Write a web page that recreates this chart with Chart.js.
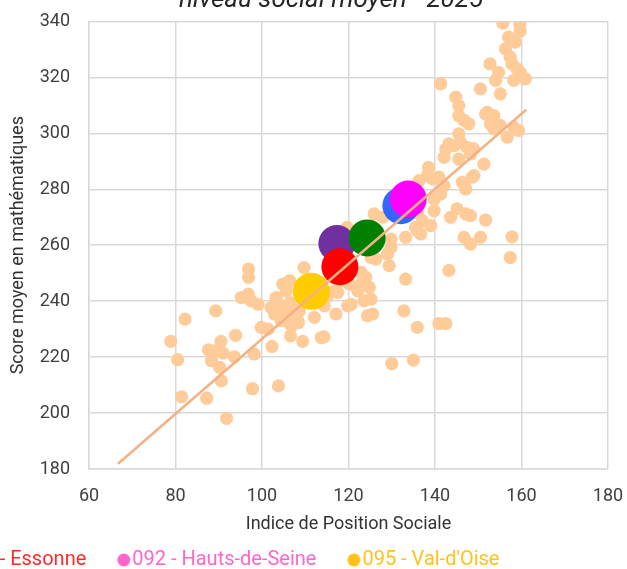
<!DOCTYPE html>
<html lang="fr">
<head>
<meta charset="utf-8">
<title>Score moyen en mathématiques et niveau social moyen - 2025</title>
<script src="https://cdn.jsdelivr.net/npm/chart.js@4.4.1/dist/chart.umd.min.js"></script>
<style>
  html, body { margin: 0; padding: 0; background: #fff; overflow: hidden; }
  #wrap { position: relative; width: 627px; height: 569px; overflow: hidden; }
  /* the chart is bigger than the window: title and legend are cut like in the picture */
  #box { position: absolute; left: -85px; top: -46px; width: 832px; height: 678px; }
</style>
</head>
<body>
<div id="wrap"><div id="box"><canvas id="myChart"></canvas></div></div>
<script>
// collèges (points orange clair)
const ipsColleges = [
  96.9, 96.9, 109.7, 104.8, 105.6, 95.2, 96.8, 97.5, 99.1, 103.3,
  104, 105.5, 106.5, 106.3, 105.1, 106.8, 108.4, 108.6, 112.1, 113.7,
  99.8, 101.4, 106.6, 109.4, 102.3, 89.3, 82.2, 78.9, 80.5, 93.9,
  90.5, 87.6, 89.1, 91.0, 88.3, 90.2, 93.6, 98.2, 90.6, 81.4,
  87.2, 91.8, 97.8, 103.8, 102.9, 104.8, 103.3, 102.1, 104.4, 106.4,
  105.6, 107.1, 108.3, 114.3, 117.1, 119.8, 120.6, 123.6, 125.2, 124.4,
  125.6, 132.8, 135.9, 133.2, 129.4, 124.0, 124.8, 122.9, 122.1, 120.2,
  119.4, 118.3, 117.5, 115.2, 114.4, 116.7, 122.9, 125.2, 119.7, 125.9,
  127.9, 129.8, 129.0, 126.3, 133.2, 135.9, 138.5, 138.2, 135.9, 137.1,
  135.5, 136.7, 129.8, 145.5, 146.7, 147.8, 151.7, 153.6, 152.8, 153.6,
  155.1, 156.7, 159.3, 158.2, 145.5, 143.2, 142.5, 144.4, 145.9, 147.4,
  148.9, 142.1, 145.5, 148.2, 151.3, 140.9, 139.4, 146.3, 147.1, 148.6,
  142.1, 141.3, 139.8, 136.3, 139.8, 139.0, 143.6, 145.1, 147.1, 148.2,
  151.7, 146.7, 148.2, 150.5, 157.8, 157.4, 143.2, 140.9, 142.5, 130.0,
  135.0, 155.7, 159.6, 159.7, 157.0, 158.6, 156.3, 157.4, 157.8, 159.0,
  159.7, 160.9, 158.2, 152.7, 154.7, 154.0, 150.5, 155.1, 144.8, 145.5,
  152.1, 141.3, 141.7, 149.0
];
const scoreColleges = [
  251.5, 248.5, 252.0, 246.1, 245.5, 241.3, 242.5, 240.1, 238.9, 240.7,
  237, 238, 239.5, 234, 233, 231.2, 232.3, 236.5, 234.2, 227,
  230.6, 230.0, 227.6, 225.6, 223.8, 236.5, 233.6, 225.6, 219.1, 227.8,
  225.6, 222.6, 222.2, 221.4, 218.7, 216.3, 220.1, 221.1, 211.5, 205.8,
  205.3, 198.1, 208.7, 209.7, 235.4, 236.5, 241.3, 237.7, 233, 247.3,
  243.7, 237.2, 233, 227.2, 235.4, 238.3, 238.9, 240.1, 240.7, 234.8,
  235.4, 236.5, 230.6, 247.9, 252.7, 248.5, 244.9, 246.1, 243.7, 246.1,
  247.3, 247.3, 243.1, 241.9, 238.3, 243.7, 250.3, 255.6, 266.4, 271.2,
  270, 262.2, 256.8, 255, 262.8, 265.2, 287.8, 284.9, 271.7, 268.8,
  266.4, 264.0, 259.2, 306.3, 304.6, 303.4, 306.9, 306.3, 303.4, 301.6,
  302.8, 298.6, 301, 302.2, 299.8, 296.2, 294.4, 295.6, 296.8, 295,
  294.4, 291.4, 290.8, 292.6, 289, 284.3, 283.7, 282.5, 280.1, 284.3,
  281.3, 278.3, 276.5, 283.1, 272.3, 267, 270, 273, 271.2, 270.6,
  269, 262.8, 260.4, 262.8, 263.0, 255.6, 251, 232, 232, 217.7,
  218.9, 339.4, 338.9, 336.5, 334.4, 332.6, 330.2, 327.2, 324.8, 323,
  321.8, 319.5, 318.9, 324.8, 321.8, 318.9, 315.9, 314.1, 312.9, 309.9,
  307.5, 317.7, 280.7, 284.9
];

// moyennes départementales (gros points)
const deptLabels = ["095 - Val-d'Oise", "092 - Hauts-de-Seine", "091 - Essonne", "078 - Yvelines", "075 - Paris", "094 - Val-de-Marne"];
const deptIps = [111.4, 133.8, 118.0, 124.3, 132.1, 117.3];
const deptScores = [243.5, 276.5, 252.3, 262.6, 274.1, 260.6];
const deptColors = ["#ffcc00", "#ff00ff", "#ff0000", "#008000", "#3366ff", "#7030a0"];
const deptLegendColors = ["#ffc21a", "#ff66cc", "#ff2a2a", "#008000", "#3366ff", "#7030a0"];

// droite de tendance
const trendIps = [66.7, 161.1];
const trendScores = [181.9, 308.4];

const xTicks = { min: 60, max: 180, step: 20 };
const yTicks = { min: 180, max: 340, step: 20 };

const collegeLabel = "Collèges d'Île-de-France";
const trendLabel = "Linéaire (Collèges d'Île-de-France)";

const peach = "#ffcc99";
const trendColor = "#f4b183";
const gridColor = "#d9d9d9";
const textColor = "#404040";

const toPoints = (xs, ys) => xs.map((x, i) => ({ x: x, y: ys[i] }));

// trend first so it is drawn on top, collèges last so they stay behind
const datasets = [
  {
    type: "line",
    label: trendLabel,
    data: toPoints(trendIps, trendScores),
    borderColor: trendColor,
    backgroundColor: trendColor,
    borderWidth: 2.5,
    pointRadius: 0,
    fill: false,
    yAxisID: "y",
  },
  ...deptLabels.map((label, i) => ({
    type: "scatter",
    label: label,
    data: [{ x: deptIps[i], y: deptScores[i] }],
    backgroundColor: deptColors[i],
    borderWidth: 0,
    pointRadius: 18.5,
    pointHoverRadius: 18.5,
    yAxisID: "y",
  })),
  {
    type: "scatter",
    label: collegeLabel,
    data: toPoints(ipsColleges, scoreColleges),
    backgroundColor: peach,
    borderWidth: 0,
    pointRadius: 6.6,
    pointHoverRadius: 6.6,
    yAxisID: "y",
  },
];

// legend: 091, 092, 095 on the first row, the rest wraps below
const legendOrder = [3, 2, 1, 0, 7, 5, 4, 6];

const legendDot = (color) => {
  const c = document.createElement("canvas");
  c.width = 48;
  c.height = 14;
  const ctx = c.getContext("2d");
  ctx.fillStyle = color;
  ctx.beginPath();
  ctx.arc(40.5, 7, 6.5, 0, Math.PI * 2);
  ctx.fill();
  return c;
};

const legendColor = (idx) => {
  if (idx === 0) return trendColor;
  if (idx === 7) return peach;
  return deptLegendColors[idx - 1];
};

const chart = new Chart(document.getElementById("myChart"), {
  data: { datasets },
  options: {
    responsive: true,
    maintainAspectRatio: false,
    animation: false,
    layout: { padding: 0 },
    scales: {
      x: {
        type: "linear",
        min: xTicks.min,
        max: xTicks.max,
        ticks: {
          stepSize: xTicks.step,
          padding: 17,
          color: textColor,
          font: { family: "Roboto", size: 18 },
        },
        grid: { color: gridColor, lineWidth: 1.5, drawTicks: false },
        border: { color: gridColor, width: 1.5 },
        title: {
          display: true,
          text: "Indice de Position Sociale",
          color: "#333333",
          font: { family: "Roboto", size: 18 },
          padding: { top: -10.9, bottom: 8.7 },
        },
      },
      y: {
        type: "linear",
        position: "left",
        min: yTicks.min,
        max: yTicks.max,
        ticks: {
          stepSize: yTicks.step,
          padding: 19,
          color: textColor,
          font: { family: "Roboto", size: 18 },
        },
        grid: { color: gridColor, lineWidth: 1.5, drawTicks: false },
        border: { color: gridColor, width: 1.5 },
        title: {
          display: true,
          text: "Score moyen en mathématiques",
          color: "#333333",
          font: { family: "Roboto", size: 18 },
          padding: { top: 92.7, bottom: -8.6 },
        },
      },
      // empty space on the right, outside the window
      spacer: {
        type: "linear",
        position: "right",
        display: true,
        ticks: { display: false },
        grid: { display: false },
        border: { display: false },
        afterFit: (scale) => {
          scale.width = 139;
        },
      },
    },
    plugins: {
      title: {
        display: true,
        text: ["Score moyen en mathématiques en fonction du", "niveau social moyen - 2025"],
        color: "#262626",
        font: { family: "Roboto", size: 26, style: "italic", weight: "normal" },
        padding: { top: 0, bottom: 5 },
      },
      legend: {
        position: "bottom",
        align: "start",
        labels: {
          usePointStyle: true,
          pointStyleWidth: 30,
          boxHeight: 14,
          padding: 6,
          font: { family: "Roboto", size: 20 },
          generateLabels: (c) =>
            legendOrder.map((idx) => ({
              text: c.data.datasets[idx].label,
              fillStyle: legendColor(idx),
              strokeStyle: legendColor(idx),
              fontColor: legendColor(idx),
              lineWidth: 0,
              pointStyle: legendDot(legendColor(idx)),
              hidden: false,
              datasetIndex: idx,
            })),
        },
      },
      tooltip: { enabled: false },
    },
  },
});
</script>
</body>
</html>
